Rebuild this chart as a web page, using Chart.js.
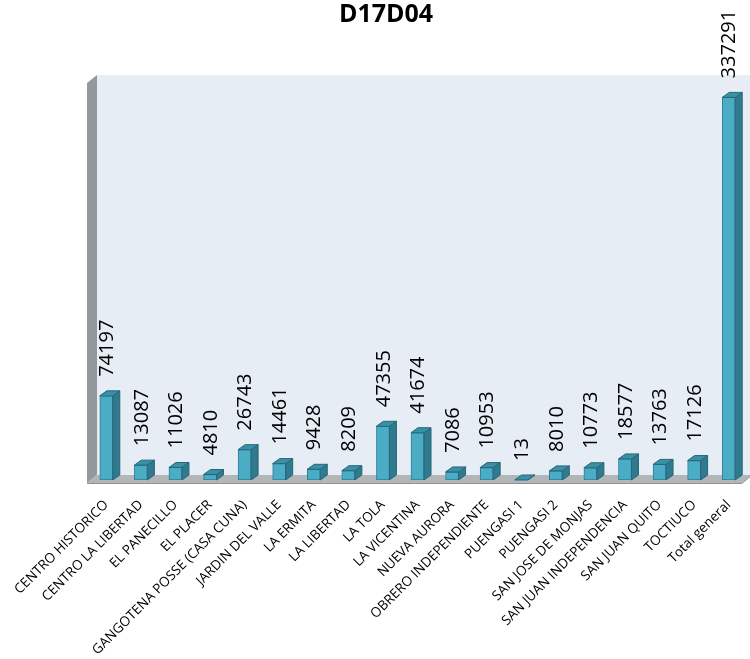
<!DOCTYPE html>
<html>
<head>
<meta charset="utf-8">
<script src="https://cdn.jsdelivr.net/npm/chart.js@4.4.1/dist/chart.umd.min.js"></script>
<style>
  html, body { margin: 0; padding: 0; background: #fff; }
  #wrap { width: 750px; height: 659px; position: relative; }
</style>
</head>
<body>
<div id="wrap"><canvas id="chart"></canvas></div>
<script>
  const categories = ['CENTRO HISTORICO', 'CENTRO LA LIBERTAD', 'EL PANECILLO', 'EL PLACER',
    'GANGOTENA POSSE (CASA CUNA)', 'JARDIN DEL VALLE', 'LA ERMITA', 'LA LIBERTAD', 'LA TOLA',
    'LA VICENTINA', 'NUEVA AURORA', 'OBRERO INDEPENDIENTE', 'PUENGASI 1', 'PUENGASI 2',
    'SAN JOSE DE MONJAS', 'SAN JUAN INDEPENDENCIA', 'SAN JUAN QUITO', 'TOCTIUCO', 'Total general'];
  const values = [74197, 13087, 11026, 4810, 26743, 14461, 9428, 8209, 47355,
    41674, 7086, 10953, 13, 8010, 10773, 18577, 13763, 17126, 337291];
  const chartTitle = 'D17D04';

  // depth of the walls and of the bars
  const WALL_DX = 10, WALL_DY = -8;
  const BAR_DX = 7, BAR_DY = -5;

  const threeD = {
    id: 'threeD',
    beforeDatasetsDraw(chart) {
      const { ctx, chartArea: a } = chart;
      const L = a.left - 2, R = a.right - 4, T = a.top, B = a.bottom + 3;
      ctx.save();
      // back wall
      ctx.fillStyle = '#E6EDF5';
      ctx.fillRect(L + WALL_DX, T + WALL_DY, chart.width - L, B - T);
      // side wall
      ctx.fillStyle = '#95989B';
      ctx.beginPath();
      ctx.moveTo(L, T);
      ctx.lineTo(L + WALL_DX, T + WALL_DY);
      ctx.lineTo(L + WALL_DX, B + WALL_DY);
      ctx.lineTo(L, B);
      ctx.closePath();
      ctx.fill();
      // floor
      ctx.fillStyle = '#B3B6B9';
      ctx.beginPath();
      ctx.moveTo(L, B);
      ctx.lineTo(R, B);
      ctx.lineTo(R + WALL_DX, B + WALL_DY);
      ctx.lineTo(L + WALL_DX, B + WALL_DY);
      ctx.closePath();
      ctx.fill();
      ctx.strokeStyle = '#8E9194';
      ctx.lineWidth = 1;
      ctx.beginPath();
      ctx.moveTo(L, B + 0.5);
      ctx.lineTo(R, B + 0.5);
      ctx.lineTo(R + WALL_DX, B + WALL_DY);
      ctx.stroke();
      ctx.restore();
    },
    afterDatasetsDraw(chart) {
      const { ctx } = chart;
      const meta = chart.getDatasetMeta(0);
      ctx.save();
      meta.data.forEach((bar, i) => {
        const half = bar.width / 2;
        const x0 = bar.x - half, x1 = bar.x + half;
        const y = bar.y, base = bar.base;
        // side face
        ctx.fillStyle = '#2F7A8E';
        ctx.strokeStyle = '#266678';
        ctx.lineWidth = 1;
        ctx.beginPath();
        ctx.moveTo(x1, y);
        ctx.lineTo(x1 + BAR_DX, y + BAR_DY);
        ctx.lineTo(x1 + BAR_DX, base + BAR_DY);
        ctx.lineTo(x1, base);
        ctx.closePath();
        ctx.fill();
        ctx.stroke();
        // top face
        ctx.fillStyle = '#3A90A7';
        ctx.beginPath();
        ctx.moveTo(x0, y);
        ctx.lineTo(x0 + BAR_DX, y + BAR_DY);
        ctx.lineTo(x1 + BAR_DX, y + BAR_DY);
        ctx.lineTo(x1, y);
        ctx.closePath();
        ctx.fill();
        ctx.stroke();
        // value label
        ctx.save();
        ctx.translate(bar.x + 1, y - 19);
        ctx.rotate(-Math.PI / 2);
        ctx.fillStyle = '#000';
        ctx.font = '20px "Open Sans"';
        ctx.textAlign = 'left';
        ctx.textBaseline = 'middle';
        ctx.fillText(String(values[i]), 0, 0);
        ctx.restore();
      });
      ctx.restore();
    }
  };

  new Chart(document.getElementById('chart'), {
    type: 'bar',
    data: {
      labels: categories,
      datasets: [{
        data: values,
        backgroundColor: '#4BACC6',
        borderColor: '#2E7F94',
        borderWidth: 1,
        borderSkipped: false,
        barThickness: 13
      }]
    },
    options: {
      responsive: true,
      maintainAspectRatio: false,
      animation: false,
      layout: { padding: { left: 26, right: 4, top: 0, bottom: 0 } },
      plugins: {
        legend: { display: false },
        tooltip: { enabled: false },
        title: {
          display: true,
          text: chartTitle,
          color: '#000',
          font: { family: 'Open Sans', size: 25, weight: 'bold' },
          padding: { top: 0, bottom: 53 }
        }
      },
      scales: {
        x: {
          grid: { display: false },
          border: { display: false },
          ticks: {
            autoSkip: false,
            maxRotation: 45,
            minRotation: 45,
            padding: 9,
            color: '#000',
            font: { family: 'Open Sans', size: 13.5 }
          },
          afterFit(scale) {
            scale.height = 179;
            scale.paddingLeft = 0;
            scale.paddingRight = 0;
          }
        },
        y: {
          min: 0,
          max: 350000,
          grid: { display: false },
          border: { display: false },
          ticks: { display: false },
          afterFit(scale) { scale.width = 63; }
        }
      }
    },
    plugins: [threeD]
  });
</script>
</body>
</html>
